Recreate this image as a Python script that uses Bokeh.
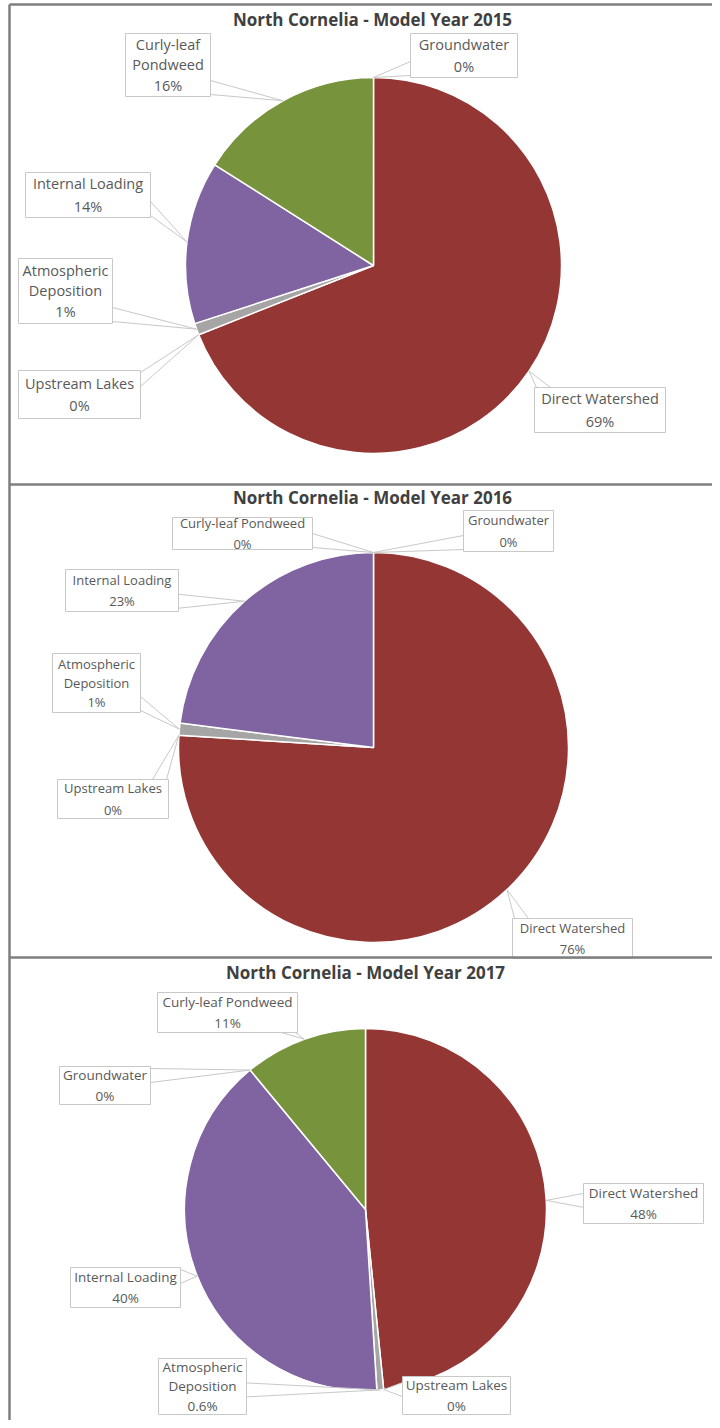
import math
from bokeh.plotting import figure
from bokeh.models import Range1d
from bokeh.core.properties import value
from bokeh.embed import file_html
from bokeh.resources import INLINE

# ---------------- data ----------------
titles = ["North Cornelia - Model Year 2015",
          "North Cornelia - Model Year 2016",
          "North Cornelia - Model Year 2017"]

categories_2015 = ["Direct Watershed", "Upstream Lakes", "Atmospheric Deposition",
                   "Internal Loading", "Curly-leaf Pondweed", "Groundwater"]
values_2015 = [69.0, 0.0, 1.0, 14.0, 16.0, 0.0]
pct_2015 = ["69%", "0%", "1%", "14%", "16%", "0%"]

categories_2016 = ["Direct Watershed", "Upstream Lakes", "Atmospheric Deposition",
                   "Internal Loading", "Curly-leaf Pondweed", "Groundwater"]
values_2016 = [76.0, 0.0, 1.0, 23.0, 0.0, 0.0]
pct_2016 = ["76%", "0%", "1%", "23%", "0%", "0%"]

categories_2017 = ["Direct Watershed", "Upstream Lakes", "Atmospheric Deposition",
                   "Internal Loading", "Groundwater", "Curly-leaf Pondweed"]
values_2017 = [48.4, 0.0, 0.6, 40.0, 0.0, 11.0]
pct_2017 = ["48%", "0%", "0.6%", "40%", "0%", "11%"]

colors = {
    "Direct Watershed": "#943634",
    "Upstream Lakes": "#4BACC6",
    "Atmospheric Deposition": "#A5A5A5",
    "Internal Loading": "#8064A2",
    "Curly-leaf Pondweed": "#77933C",
    "Groundwater": "#4F81BD",
}

# ---------------- layout (picture pixel coordinates, y downward) ----------------
W, H = 712, 1420
FONT = "Open Sans"
BOX_LINE = "#C8C8C8"
TEXT_COLOR = "#595959"
BORDER = "#7F7F7F"

panels = [
    dict(cx=373, cy=265, r=188, tx=372, ty=19, fs="14.5px",
         cats=categories_2015, vals=values_2015, pcts=pct_2015,
         boxes={
             "Curly-leaf Pondweed": ((125, 33, 210, 96), "Curly-leaf\nPondweed"),
             "Groundwater": ((410, 33, 517, 77), "Groundwater"),
             "Internal Loading": ((25, 172, 150, 217), "Internal Loading"),
             "Atmospheric Deposition": ((18, 258, 112, 323), "Atmospheric\nDeposition"),
             "Upstream Lakes": ((18, 370, 140, 418), "Upstream Lakes"),
             "Direct Watershed": ((534, 387, 665, 432), "Direct Watershed"),
         }),
    dict(cx=373, cy=747, r=195, tx=372, ty=497, fs="13px",
         cats=categories_2016, vals=values_2016, pcts=pct_2016,
         boxes={
             "Curly-leaf Pondweed": ((172, 517, 312, 549), "Curly-leaf Pondweed"),
             "Groundwater": ((463, 510, 553, 551), "Groundwater"),
             "Internal Loading": ((65, 569, 178, 611), "Internal Loading"),
             "Atmospheric Deposition": ((52, 653, 140, 712), "Atmospheric\nDeposition"),
             "Upstream Lakes": ((57, 779, 168, 818), "Upstream Lakes"),
             "Direct Watershed": ((512, 918, 632, 958), "Direct Watershed"),
         }),
    dict(cx=365, cy=1209, r=181, tx=365, ty=972, fs="13.5px",
         cats=categories_2017, vals=values_2017, pcts=pct_2017,
         boxes={
             "Curly-leaf Pondweed": ((157, 992, 297, 1032), "Curly-leaf Pondweed"),
             "Groundwater": ((59, 1066, 150, 1104), "Groundwater"),
             "Direct Watershed": ((583, 1183, 703, 1223), "Direct Watershed"),
             "Internal Loading": ((70, 1267, 180, 1307), "Internal Loading"),
             "Atmospheric Deposition": ((158, 1358, 246, 1414), "Atmospheric\nDeposition"),
             "Upstream Lakes": ((402, 1376, 510, 1414), "Upstream Lakes"),
         }),
]


def X(px):
    return px


def Y(py):
    return H - py


def pointer(box, ax, ay):
    x0, y0, x1, y1 = box
    hw = 7
    dx = x0 - ax if ax < x0 else (ax - x1 if ax > x1 else 0)
    dy = y0 - ay if ay < y0 else (ay - y1 if ay > y1 else 0)
    if dx >= dy:
        ex = x0 if ax < x0 else x1
        by = min(max(ay, y0 + hw + 2), y1 - hw - 2)
        return [ex, ex, ax], [by - hw, by + hw, ay]
    ey = y0 if ay < y0 else y1
    bx = min(max(ax, x0 + hw + 2), x1 - hw - 2)
    return [bx - hw, bx + hw, ax], [ey, ey, ay]


p = figure(width=W, height=H, output_backend="svg", toolbar_location=None,
           x_range=Range1d(0, W), y_range=Range1d(0, H),
           x_axis_location=None, y_axis_location=None, min_border=0)
p.grid.visible = False
p.outline_line_color = None
p.background_fill_color = "white"

for i, pn in enumerate(panels):
    cx, cy, r = pn["cx"], pn["cy"], pn["r"]
    total = sum(pn["vals"])
    cum = 0.0
    starts, ends, cols, mids = [], [], [], []
    for c, v in zip(pn["cats"], pn["vals"]):
        a0 = math.pi / 2 - 2 * math.pi * cum / total
        a1 = math.pi / 2 - 2 * math.pi * (cum + v) / total
        mids.append((a0 + a1) / 2)
        if v > 0:
            starts.append(a0)
            ends.append(a1)
            cols.append(colors[c])
        cum += v
    p.wedge(x=[X(cx)] * len(starts), y=[Y(cy)] * len(starts), radius=r, radius_units="screen",
            start_angle=starts, end_angle=ends, direction="clock",
            fill_color=cols, line_color="white", line_width=1.5)

    for c, m in zip(pn["cats"], mids):
        box, name = pn["boxes"][c]
        ax = cx + r * math.cos(m)
        ay = cy - r * math.sin(m)
        xs, ys = pointer(box, ax, ay)
        p.patch([X(v) for v in xs], [Y(v) for v in ys], fill_color="white",
                line_color=BOX_LINE, line_width=1)
    for c, pct in zip(pn["cats"], pn["pcts"]):
        box, name = pn["boxes"][c]
        x0, y0, x1, y1 = box
        p.quad(left=X(x0), right=X(x1), top=Y(y0), bottom=Y(y1), fill_color="white",
               line_color=BOX_LINE, line_width=1)
        nl = name.count("\n") + 2
        p.text(x=[X((x0 + x1) / 2)], y=[Y((y0 + y1) / 2)], text=[name + "\n" + pct],
               text_align="center", text_baseline="middle", text_font=value(FONT),
               text_font_size=pn["fs"], text_color=TEXT_COLOR,
               text_line_height=1.08 if nl == 3 else 1.2)

    p.text(x=[X(pn["tx"])], y=[Y(pn["ty"])], text=[titles[i]], text_align="center",
           text_baseline="middle", text_font=value(FONT), text_font_style="bold",
           text_font_size="17px", text_color="#404040")

# panel frame lines
p.segment(x0=[X(9), X(9), X(9), X(9)], y0=[Y(4), Y(4), Y(484), Y(957)],
          x1=[X(9), X(W), X(W), X(W)], y1=[Y(H), Y(4), Y(484), Y(957)],
          line_color=BORDER, line_width=2.5)

open("out.html", "w").write(file_html(p, INLINE))
